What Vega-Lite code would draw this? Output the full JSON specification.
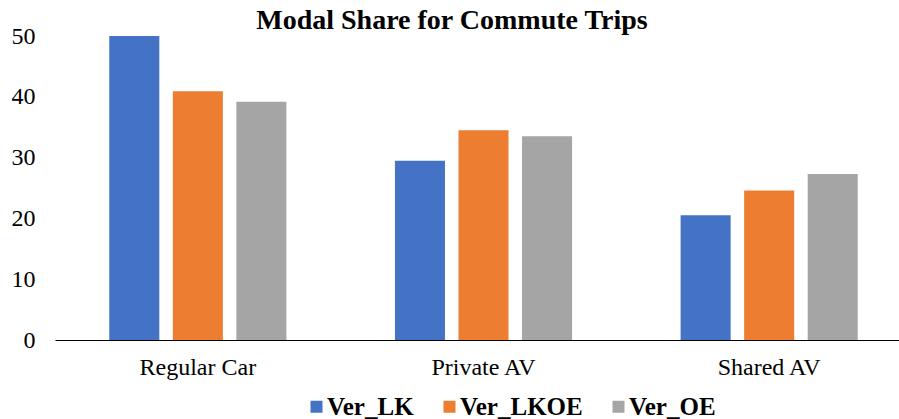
{
  "$schema": "https://vega.github.io/schema/vega-lite/v6.json",
  "width": 844,
  "height": 304,
  "autosize": {"type": "none"},
  "padding": {"left": 55, "top": 36, "right": 0, "bottom": 79},
  "title": {"text": "Modal Share for Commute Trips", "font": "Liberation Serif", "fontSize": 28, "fontWeight": "bold", "color": "#000000", "dx": -25, "dy": 19, "offset": 8},
  "data": {"values": [
    {"mode": "Regular Car", "version": "Ver_LK", "share": 50.0},
    {"mode": "Regular Car", "version": "Ver_LKOE", "share": 40.9},
    {"mode": "Regular Car", "version": "Ver_OE", "share": 39.2},
    {"mode": "Private AV", "version": "Ver_LK", "share": 29.5},
    {"mode": "Private AV", "version": "Ver_LKOE", "share": 34.5},
    {"mode": "Private AV", "version": "Ver_OE", "share": 33.5},
    {"mode": "Shared AV", "version": "Ver_LK", "share": 20.5},
    {"mode": "Shared AV", "version": "Ver_LKOE", "share": 24.6},
    {"mode": "Shared AV", "version": "Ver_OE", "share": 27.3}
  ]},
  "mark": {"type": "bar"},
  "encoding": {
    "x": {"field": "mode", "type": "nominal", "sort": ["Regular Car", "Private AV", "Shared AV"],
      "scale": {"range": [0, 857], "paddingInner": 0, "paddingOuter": 0},
      "axis": {"title": null, "labelAngle": 0, "ticks": false, "tickSize": 0, "domainColor": "#000000", "domainWidth": 1, "labelFont": "Liberation Serif", "labelFontSize": 24, "labelColor": "#000000", "labelPadding": 15}},
    "xOffset": {"field": "version", "type": "nominal", "sort": ["Ver_LK", "Ver_LKOE", "Ver_OE"],
      "scale": {"paddingInner": 0.2126, "paddingOuter": 0.854}},
    "y": {"field": "share", "type": "quantitative", "scale": {"domain": [0, 50], "nice": false},
      "axis": {"title": null, "domain": false, "ticks": false, "tickSize": 0, "grid": false, "values": [0, 10, 20, 30, 40, 50], "labelFont": "Liberation Serif", "labelFontSize": 24, "labelColor": "#000000", "labelPadding": 20}},
    "color": {"field": "version", "type": "nominal", "sort": ["Ver_LK", "Ver_LKOE", "Ver_OE"],
      "scale": {"domain": ["Ver_LK", "Ver_LKOE", "Ver_OE"], "range": ["#4472C4", "#ED7D31", "#A5A5A5"]},
      "legend": {"title": null, "orient": "none", "direction": "horizontal", "legendX": 249, "legendY": 358, "padding": 0, "symbolType": "square", "symbolSize": 144, "symbolStrokeWidth": 0, "labelOffset": -2, "columnPadding": 23, "labelFont": "Liberation Serif", "labelFontSize": 25, "labelFontWeight": "bold", "labelColor": "#000000"}}
  },
  "config": {"view": {"stroke": null}}
}
